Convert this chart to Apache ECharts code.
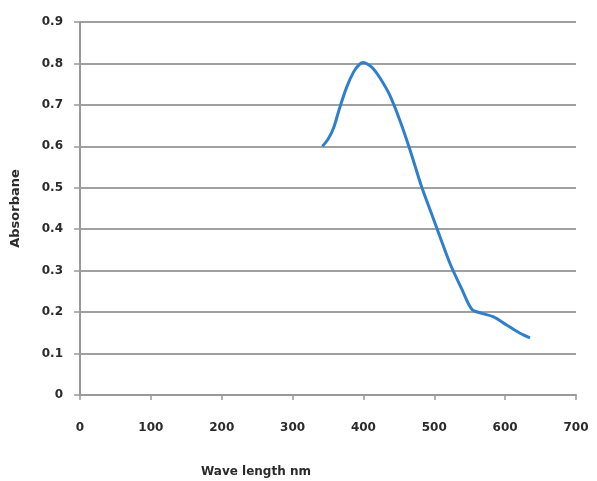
<!DOCTYPE html>
<html><head><meta charset="utf-8">
<script src="https://cdn.jsdelivr.net/npm/echarts@6/dist/echarts.min.js"></script>
<style>html,body{margin:0;padding:0;background:#fff}#c{width:597px;height:481px}</style>
</head><body><div id="c"></div>
<script>
const wavelength = [342, 350, 358, 366, 376, 386, 394, 400, 406, 413, 423, 437, 452, 466, 482, 496, 508, 522, 539, 553, 567, 583, 602, 621, 635];
const absorbance = [0.600, 0.617, 0.645, 0.690, 0.741, 0.779, 0.797, 0.802, 0.798, 0.789, 0.766, 0.724, 0.660, 0.590, 0.503, 0.438, 0.382, 0.318, 0.255, 0.207, 0.197, 0.189, 0.169, 0.149, 0.138];
const xTicks = [0, 100, 200, 300, 400, 500, 600, 700];
const yTicks = [0, 0.1, 0.2, 0.3, 0.4, 0.5, 0.6, 0.7, 0.8, 0.9];

const chart = echarts.init(document.getElementById('c'));
const labelStyle = {color: '#2b2b2b', fontFamily: 'DejaVu Sans', fontWeight: 'bold', fontSize: 12};
chart.setOption({
  animation: false,
  backgroundColor: '#fff',
  title: {
    text: 'Wave length nm', left: 196, top: 461,
    textStyle: {color: '#2b2b2b', fontFamily: 'DejaVu Sans', fontWeight: 'bold', fontSize: 12}
  },
  grid: {left: 80, right: 21, top: 22, bottom: 86},
  xAxis: {
    type: 'value', min: 0, max: 700, interval: 100,
    axisLine: {lineStyle: {color: '#999', width: 2}},
    axisTick: {show: true, length: 5, lineStyle: {color: '#999', width: 1.5}},
    axisLabel: Object.assign({margin: 27, formatter: v => xTicks.includes(v) ? String(v) : ''}, labelStyle),
    splitLine: {show: false}
  },
  yAxis: {
    type: 'value', min: 0, max: 0.9, interval: 0.1,
    name: 'Absorbane', nameLocation: 'middle', nameGap: 58, nameRotate: 90,
    nameTextStyle: {color: '#2b2b2b', fontFamily: 'DejaVu Sans', fontWeight: 'bold', fontSize: 13},
    axisLine: {show: true, lineStyle: {color: '#999', width: 2}},
    axisTick: {show: true, length: 6, lineStyle: {color: '#999', width: 1.5}},
    axisLabel: Object.assign({margin: 17, formatter: v => {
      const t = yTicks.find(y => Math.abs(y - v) < 1e-9);
      return t === undefined ? '' : (t === 0 ? '0' : t.toFixed(1));
    }}, labelStyle),
    splitLine: {show: true, lineStyle: {color: '#a0a0a0', width: 2}}
  },
  series: [{
    type: 'line',
    data: wavelength.map((x, i) => [x, absorbance[i]]),
    smooth: 0.3,
    showSymbol: false,
    lineStyle: {color: '#2f7fcc', width: 3}
  }]
});
</script></body></html>
